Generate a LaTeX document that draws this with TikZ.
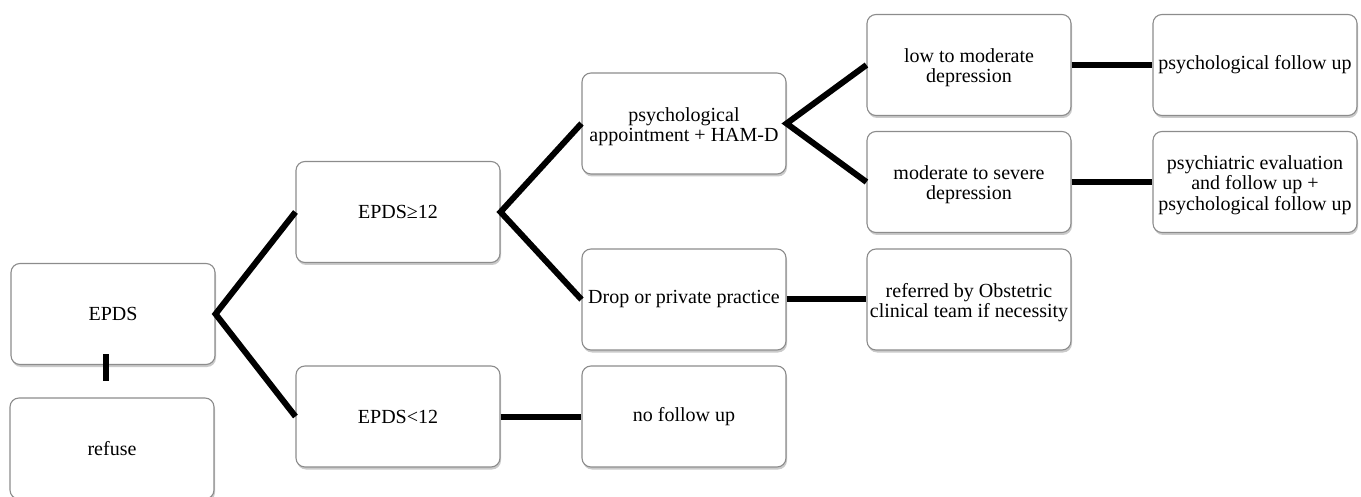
\documentclass[tikz,border=0pt]{standalone}
\usepackage{fontspec}
\setmainfont{Liberation Serif}
\usetikzlibrary{shadows}
\newcommand\mlines[1]{\raisebox{-4pt}[\height][\depth]{\begin{tabular}{@{}c@{}}#1\end{tabular}}}
\begin{document}
\begin{tikzpicture}[x=1pt,y=1pt,
  box/.style={draw=black!45, line width=1.1pt, fill=white, rounded corners=9pt,
    minimum width=204pt, minimum height=101pt, inner sep=2pt, align=center,
    font=\fontsize{20}{20}\selectfont,
    drop shadow={shadow xshift=1pt, shadow yshift=-2.5pt, opacity=0.35, fill=black!60}},
  link/.style={line width=6pt, black, line join=miter}]
\useasboundingbox (0,0) rectangle (1361,-497);
\node[box] (epds) at (113,-314) {EPDS};
\node[box] (refuse) at (112,-448.5) {refuse};
\node[box] (ge12) at (398,-212) {EPDS≥12};
\node[box] (lt12) at (398,-416.5) {EPDS<12};
\node[box] (appt) at (684,-123.5) {\mlines{psychological\\appointment + HAM-D}};
\node[box] (drop) at (684,-299.5) {Drop or private practice};
\node[box] (nofu) at (684,-416.5) {no follow up};
\node[box] (low) at (969,-65) {\mlines{low to moderate\\depression}};
\node[box] (mod) at (969,-182) {\mlines{moderate to severe\\depression}};
\node[box] (psyfu) at (1255,-65) {psychological follow up};
\node[box] (psyeval) at (1255,-182) {\mlines{psychiatric evaluation\\and follow up +\\psychological follow up}};
\node[box] (referred) at (969,-299.5) {\mlines{referred by Obstetric\\clinical team if necessity}};
\coordinate (stubtop) at (106,-354);
\coordinate (stubbot) at (106,-381);
\draw[link] (ge12.west) -- (epds.east) -- (lt12.west);
\draw[link] (appt.west) -- (ge12.east) -- (drop.west);
\draw[link] (low.west) -- (appt.east) -- (mod.west);
\draw[link] (low.east) -- (psyfu.west);
\draw[link] (mod.east) -- (psyeval.west);
\draw[link] (drop.east) -- (referred.west);
\draw[link] (lt12.east) -- (nofu.west);
\draw[link] (stubtop) -- (stubbot);
\end{tikzpicture}
\end{document}
